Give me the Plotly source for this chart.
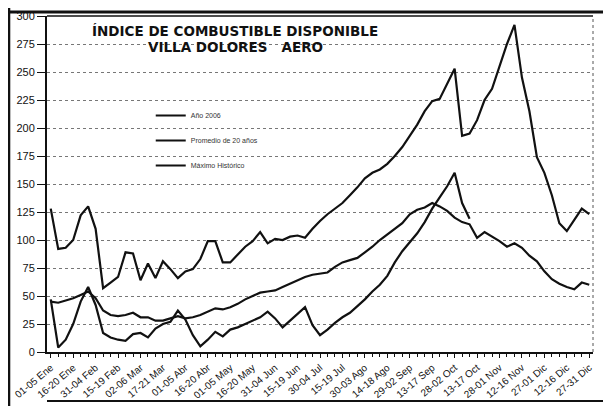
import plotly.graph_objects as go

# --- data -------------------------------------------------------------
periods = [
    "01-05 Ene", "06-10 Ene", "11-15 Ene", "16-20 Ene", "21-25 Ene", "26-30 Ene",
    "31-04 Feb", "05-09 Feb", "10-14 Feb", "15-19 Feb", "20-24 Feb", "25-01 Mar",
    "02-06 Mar", "07-11 Mar", "12-16 Mar", "17-21 Mar", "22-26 Mar", "27-31 Mar",
    "01-05 Abr", "06-10 Abr", "11-15 Abr", "16-20 Abr", "21-25 Abr", "26-30 Abr",
    "01-05 May", "06-10 May", "11-15 May", "16-20 May", "21-25 May", "26-30 May",
    "31-04 Jun", "05-09 Jun", "10-14 Jun", "15-19 Jun", "20-24 Jun", "25-29 Jun",
    "30-04 Jul", "05-09 Jul", "10-14 Jul", "15-19 Jul", "20-24 Jul", "25-29 Jul",
    "30-03 Ago", "04-08 Ago", "09-13 Ago", "14-18 Ago", "19-23 Ago", "24-28 Ago",
    "29-02 Sep", "03-07 Sep", "08-12 Sep", "13-17 Sep", "18-22 Sep", "23-27 Sep",
    "28-02 Oct", "03-07 Oct", "08-12 Oct", "13-17 Oct", "18-22 Oct", "23-27 Oct",
    "28-01 Nov", "02-06 Nov", "07-11 Nov", "12-16 Nov", "17-21 Nov", "22-26 Nov",
    "27-01 Dic", "02-06 Dic", "07-11 Dic", "12-16 Dic", "17-21 Dic", "22-26 Dic",
    "27-31 Dic",
]
tick_step = 3

anio = [47, 4, 11, 25, 45, 58, 42, 17, 13, 11, 10, 16, 17, 13, 21, 25, 27, 37,
        29, 15, 5, 11, 18, 14, 20, 22, 25, 28, 31, 36, 30, 22, 28, 34, 40, 24,
        15, 20, 26, 31, 35, 41, 47, 54, 60, 68, 80, 90, 98, 106, 116, 128, 138,
        148, 160, 133, 119]

promedio = [45, 44, 46, 48, 51, 54, 48, 37, 33, 32, 33, 35, 31, 31, 28, 28, 30,
            32, 30, 31, 33, 36, 39, 38, 40, 43, 47, 50, 53, 54, 55, 58, 61, 64,
            67, 69, 70, 71, 76, 80, 82, 84, 89, 94, 100, 105, 110, 115, 123, 127,
            129, 133, 130, 126, 120, 116, 114, 102, 107, 103, 99, 94, 97, 93, 86,
            81, 72, 65, 61, 58, 56, 62, 60]

maximo = [128, 92, 93, 100, 122, 130, 110, 57, 62, 67, 89, 88, 64, 79, 66, 81,
          74, 66, 72, 74, 83, 99, 99, 80, 80, 87, 94, 99, 107, 97, 101, 100, 103,
          104, 102, 110, 117, 123, 128, 133, 140, 147, 155, 160, 163, 168, 175,
          183, 193, 203, 215, 224, 226, 240, 253, 193, 195, 207, 225, 235, 255,
          275, 292, 245, 215, 174, 160, 140, 115, 108, 118, 128, 123]

series_names = ["Año 2006", "Promedio de 20 años", "Máximo Histórico"]
title_lines = ["ÍNDICE DE COMBUSTIBLE DISPONIBLE", "VILLA DOLORES   AERO"]
y_ticks = list(range(0, 301, 25))

# --- figure -----------------------------------------------------------
FONT = "Liberation Sans, Arial, sans-serif"
TFONT = "DejaVu Sans, Liberation Sans, sans-serif"
fig = go.Figure()
for i, (name, vals) in enumerate(zip(series_names, [anio, promedio, maximo])):
    fig.add_trace(go.Scatter(
        x=list(range(len(vals))), y=vals, mode="lines", name=name,
        legendgroup=f"g{i}",
        line=dict(color="#111111", width=2.2),
    ))

tickvals = list(range(0, len(periods), tick_step))

# title as two annotations (tight line spacing as in the original)
title_ann = [
    dict(text=f"<b>{title_lines[0]}</b>", xref="paper", yref="paper",
         x=0.344, y=0.955, xanchor="center", yanchor="middle", showarrow=False,
         font=dict(family=TFONT, size=13.5, color="#111111")),
    dict(text=f"<b>{title_lines[1]}</b>", xref="paper", yref="paper",
         x=0.346, y=0.908, xanchor="center", yanchor="middle", showarrow=False,
         font=dict(family=TFONT, size=13.5, color="#111111")),
]

# the page body has an 8px margin, so the figure is 8px smaller than the
# window and the plot area is placed to line up with the original image
fig.update_layout(
    width=603, height=398,
    margin=dict(l=39, r=18, t=8, b=54, autoexpand=False),
    paper_bgcolor="white", plot_bgcolor="white",
    font=dict(family=FONT, color="#111111"),
    annotations=title_ann,
    showlegend=True,
    legend=dict(
        x=0.19, y=0.747, xanchor="left", yanchor="top",
        bgcolor="rgba(0,0,0,0)", font=dict(size=7, color="#333333"),
        tracegroupgap=6,
    ),
    xaxis=dict(
        range=[-0.5, len(periods) - 0.5],
        tickmode="array", tickvals=tickvals,
        ticktext=[periods[v] for v in tickvals],
        tickangle=-40, tickfont=dict(size=10, color="#111111"),
        ticks="outside", ticklen=4, tickcolor="#111111", tickwidth=1,
        minor=dict(dtick=1, tick0=0, ticks="outside", ticklen=3,
                   tickcolor="#111111", showgrid=False),
        showline=True, linecolor="#111111", linewidth=2,
        showgrid=False, zeroline=False, automargin=False,
    ),
    yaxis=dict(
        range=[0, 300], tickvals=y_ticks,
        tickfont=dict(size=11, color="#111111"),
        ticks="outside", ticklen=8, tickcolor="#111111",
        showline=True, linecolor="#111111", linewidth=2,
        showgrid=True, gridcolor="#777777", griddash="dot", gridwidth=1,
        zeroline=False, automargin=False,
    ),
    shapes=[
        # top and right border of plot area
        dict(type="line", xref="paper", yref="paper", x0=0, x1=1, y0=1, y1=1,
             line=dict(color="#111111", width=1.5)),
        dict(type="line", xref="paper", yref="paper", x0=1, x1=1, y0=0, y1=1,
             line=dict(color="#555555", width=1, dash="dot")),
        # scanned outer frame
        dict(type="line", xref="paper", yref="paper", x0=-0.07, x1=-0.07,
             y0=-0.17, y1=1.05, line=dict(color="#111111", width=3)),
        dict(type="line", xref="paper", yref="paper", x0=-0.07, x1=1.025,
             y0=1.012, y1=1.012, line=dict(color="#111111", width=3)),
        dict(type="line", xref="paper", yref="paper", x0=1.022, x1=1.022,
             y0=-0.145, y1=1.012, line=dict(color="#111111", width=3)),
        dict(type="line", xref="paper", yref="paper", x0=0.0, x1=1.022,
             y0=-0.146, y1=-0.146, line=dict(color="#111111", width=2)),
    ],
)

fig.write_html("out.html")
